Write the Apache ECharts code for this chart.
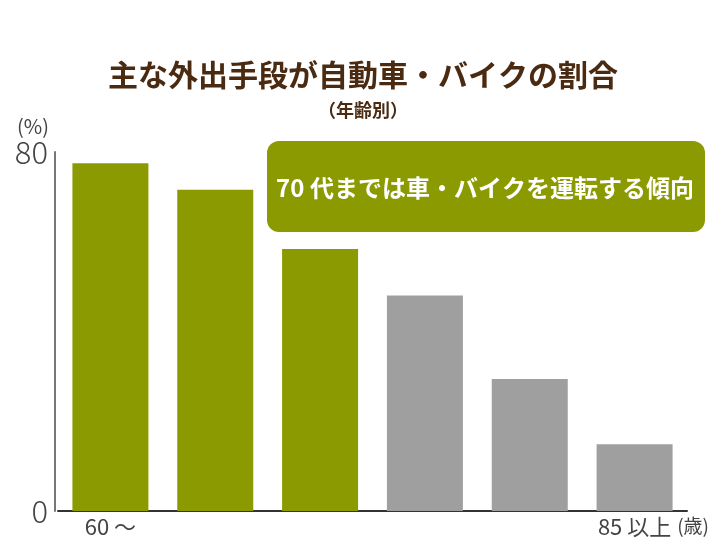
<!DOCTYPE html>
<html>
<head>
<meta charset="utf-8">
<script src="https://cdn.jsdelivr.net/npm/echarts@6/dist/echarts.min.js"></script>
<style>
  html, body { margin: 0; padding: 0; background: #fff; }
  #chart-container { width: 726px; height: 545px; }
</style>
</head>
<body>
<div id="chart-container"></div>
<script>
// 年齢区分ごとの割合 (%)
const categories = ['60〜64', '65〜69', '70〜74', '75〜79', '80〜84', '85以上'];
const values = [77.5, 71.6, 58.4, 48.0, 29.4, 14.9];
const tickLabels = ['60 ～', '', '', '', '', '85 以上'];
const yTicks = [0, 80];

const olive = '#8a9a00';
const gray = '#9f9fa0';
const font = '"Noto Sans CJK JP", "Noto Sans", sans-serif';

var dom = document.getElementById('chart-container');
var myChart = echarts.init(dom, null, { renderer: 'canvas' });

var option = {
  animation: false,
  textStyle: { fontFamily: font },
  title: {
    text: '主な外出手段が自動車・バイクの割合',
    subtext: '（年齢別）',
    left: 'center',
    top: 55,
    itemGap: 11,
    textStyle: { fontSize: 30, fontWeight: 'bold', color: '#4a2a10', fontFamily: font },
    subtextStyle: { fontSize: 18, fontWeight: 'bold', color: '#4a2a10', fontFamily: font }
  },
  grid: { left: 58, right: 39, top: 152, bottom: 34, containLabel: false, outerBoundsMode: 'none' },
  xAxis: {
    type: 'category',
    data: categories,
    name: '(歳)',
    nameLocation: 'end',
    nameGap: -20,
    nameTextStyle: { fontSize: 19, color: '#444', verticalAlign: 'top', padding: [5, 0, 0, 0] },
    axisLine: { lineStyle: { color: '#333', width: 2 } },
    axisTick: { show: false },
    axisLabel: {
      interval: 0,
      margin: 5,
      fontSize: 22,
      color: '#444',
      formatter: function (v, i) { return tickLabels[i]; }
    }
  },
  yAxis: {
    type: 'value',
    min: yTicks[0],
    max: yTicks[1],
    interval: yTicks[1] - yTicks[0],
    offset: 3,
    name: '(%)',
    nameLocation: 'end',
    nameGap: 8,
    nameTextStyle: { fontSize: 20, color: '#444', align: 'right', padding: [0, 6, 0, 0] },
    axisLine: { show: true, lineStyle: { color: '#777', width: 2 } },
    axisTick: { show: false },
    splitLine: { show: false },
    axisLabel: { fontSize: 31, color: '#444', margin: 7, fontWeight: 300 }
  },
  series: [
    {
      type: 'bar',
      data: values.map(function (v, i) {
        return { value: v, itemStyle: { color: i < 3 ? olive : gray } };
      }),
      barWidth: 76
    }
  ],
  graphic: [
    {
      type: 'group',
      left: 267,
      top: 141,
      children: [
        {
          type: 'rect',
          shape: { x: 0, y: 0, width: 438, height: 91, r: 12 },
          style: { fill: olive }
        },
        {
          type: 'text',
          x: 218,
          y: 47,
          style: {
            text: '70 代までは車・バイクを運転する傾向',
            fill: '#fff',
            fontSize: 24,
            fontWeight: 'bold',
            fontFamily: font,
            align: 'center',
            verticalAlign: 'middle'
          }
        }
      ]
    }
  ]
};

myChart.setOption(option);
window.addEventListener('resize', myChart.resize);
</script>
</body>
</html>
